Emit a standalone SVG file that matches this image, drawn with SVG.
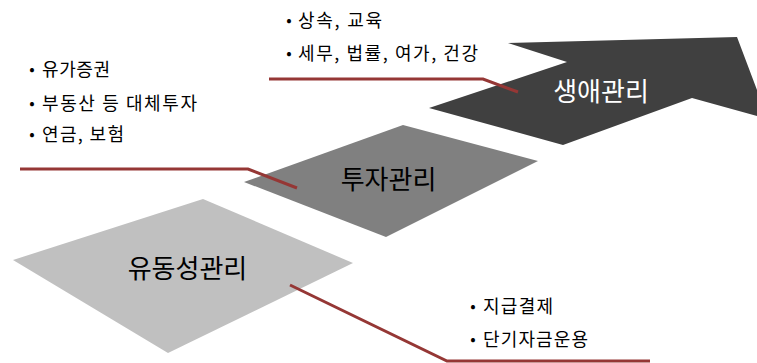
<svg xmlns="http://www.w3.org/2000/svg" width="757" height="363" viewBox="0 0 757 363">
<style>
  text { font-family: "Noto Sans CJK KR", "Noto Sans", sans-serif; }
  .big { font-size: 26px; text-anchor: middle; }
  .small { font-size: 18px; fill: #000; }
  .bul { font-size: 16px; fill: #000; text-anchor: middle; }
  .conn { fill: none; stroke: #953735; stroke-width: 3; stroke-linejoin: miter; }
</style>
<rect width="757" height="363" fill="#ffffff"/>

<g id="node-liquidity">
  <polygon points="13,260 203,199 353,263 168,353" fill="#c0c0c0"/>
  <text class="big" x="187.5" y="278" fill="#000">유동성관리</text>
</g>

<g id="node-investment">
  <polygon points="244,182 403,125 538,161 386,237" fill="#808080"/>
  <text class="big" x="388.5" y="189" fill="#000">투자관리</text>
</g>

<g id="node-life">
  <polygon points="508,43 737,37 768,119 692,98 563,145 429,108 567,62" fill="#404040"/>
  <text class="big" x="601" y="101" fill="#ffffff">생애관리</text>
</g>

<g id="notes-life">
  <text class="bul" x="289" y="26">•</text>
  <text class="small" x="298" y="27" textLength="84">상속, 교육</text>
  <text class="bul" x="289" y="59">•</text>
  <text class="small" x="298" y="60" textLength="180">세무, 법률, 여가, 건강</text>
</g>

<g id="notes-investment">
  <text class="bul" x="32" y="75">•</text>
  <text class="small" x="42" y="76" textLength="68">유가증권</text>
  <text class="bul" x="32" y="109">•</text>
  <text class="small" x="42" y="110" textLength="155">부동산 등 대체투자</text>
  <text class="bul" x="32" y="140">•</text>
  <text class="small" x="42" y="141" textLength="82">연금, 보험</text>
</g>

<g id="notes-liquidity">
  <text class="bul" x="473" y="312">•</text>
  <text class="small" x="483" y="313" textLength="70">지급결제</text>
  <text class="bul" x="473" y="345">•</text>
  <text class="small" x="483" y="346" textLength="105">단기자금운용</text>
</g>

<g id="connectors">
  <polyline class="conn" points="269,79 483,79 518,92"/>
  <polyline class="conn" points="20,169 248,169 297,188"/>
  <polyline class="conn" points="290,285 447,361 650,361"/>
</g>
</svg>
